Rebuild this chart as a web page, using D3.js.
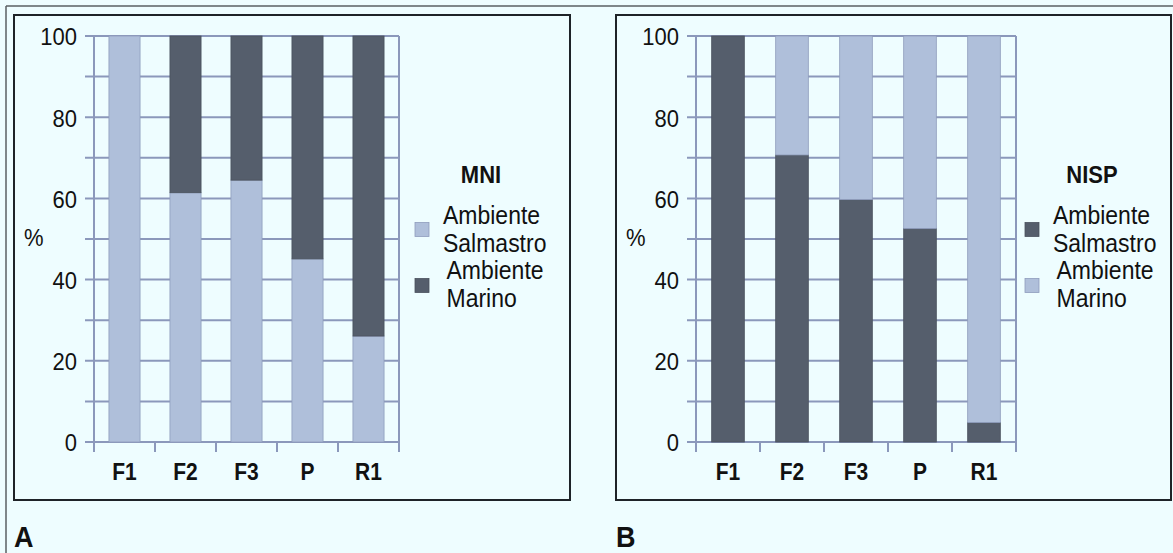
<!DOCTYPE html>
<html>
<head>
<meta charset="utf-8">
<script src="https://cdn.jsdelivr.net/npm/d3@7"></script>
<style>
  html, body { margin: 0; padding: 0; background: #eefdff; }
  svg { display: block; }
  text { font-family: "Liberation Sans", Arial, Helvetica, sans-serif; fill: #111; }
</style>
</head>
<body>
<svg id="chart" width="1173" height="553"></svg>
<script>
// Categories (sites / levels)
const categories = ["F1", "F2", "F3", "P", "R1"];

// MNI percentages
const mniSalmastro = [100, 61.4, 64.5, 45.1, 26.1];
const mniMarino    = [0, 38.6, 35.5, 54.9, 73.9];

// NISP percentages
const nispSalmastro = [100, 70.7, 59.7, 52.6, 4.8];
const nispMarino    = [0, 29.3, 40.3, 47.4, 95.2];

// Axis ticks
const yLabelTicks = [0, 20, 40, 60, 80, 100];
const yGridTicks  = [0, 10, 20, 30, 40, 50, 60, 70, 80, 90, 100];

const LIGHT = "#afbfda";
const DARK  = "#555e6c";
const GRID  = "#8b98bb";
const TEXT_STRETCH = 1.1;   // glyphs are drawn slightly taller than wide

const svg = d3.select("#chart");

// stretch a text element vertically about its baseline
function stretch(sel, baselineY) {
  sel.attr("transform", `translate(0,${baselineY}) scale(1,${TEXT_STRETCH}) translate(0,${-baselineY})`);
}

// outer frame lines (top and left)
svg.append("line").attr("x1", 6).attr("x2", 1173).attr("y1", 6).attr("y2", 6)
  .attr("stroke", "#5a5f63").attr("stroke-width", 1.5);
svg.append("line").attr("x1", 6).attr("x2", 6).attr("y1", 6).attr("y2", 553)
  .attr("stroke", "#5a5f63").attr("stroke-width", 1.5);

function panel(cfg) {
  const g = svg.append("g");

  // panel border
  g.append("rect")
    .attr("x", cfg.box[0]).attr("y", cfg.box[1])
    .attr("width", cfg.box[2] - cfg.box[0]).attr("height", cfg.box[3] - cfg.box[1])
    .attr("fill", "none").attr("stroke", "#1e2328").attr("stroke-width", 2);

  const x = d3.scaleBand().domain(categories)
    .range([cfg.plotX0, cfg.plotX1]).paddingInner(0.49).paddingOuter(0.245);
  const y = d3.scaleLinear().domain([0, 100]).range([442, 36]);

  // horizontal grid lines
  g.append("g").selectAll("line").data(yGridTicks).join("line")
    .attr("x1", cfg.plotX0 - 9).attr("x2", cfg.plotX1)
    .attr("y1", d => y(d)).attr("y2", d => y(d))
    .attr("stroke", GRID).attr("stroke-width", 2);

  // vertical frame lines (left axis and right edge)
  [cfg.plotX0, cfg.plotX1].forEach(xx => {
    g.append("line").attr("x1", xx).attr("x2", xx)
      .attr("y1", y(100)).attr("y2", y(0) + 10)
      .attr("stroke", GRID).attr("stroke-width", 2);
  });

  // category boundary ticks below the baseline
  const bounds = d3.range(categories.length + 1).map(i => cfg.plotX0 + i * (cfg.plotX1 - cfg.plotX0) / categories.length);
  g.append("g").selectAll("line").data(bounds).join("line")
    .attr("x1", d => d).attr("x2", d => d)
    .attr("y1", y(0)).attr("y2", y(0) + 10)
    .attr("stroke", GRID).attr("stroke-width", 2);

  // stacked bars
  const rows = categories.map((c, i) => ({ cat: c, bottom: cfg.bottom.values[i], top: cfg.top.values[i] }));
  const stack = d3.stack().keys(["bottom", "top"])(rows);
  const colors = { bottom: cfg.bottom.color, top: cfg.top.color };
  stack.forEach(layer => {
    const fill = colors[layer.key];
    g.append("g").selectAll("rect").data(layer.filter(d => d[1] - d[0] > 0)).join("rect")
      .attr("x", d => x(d.data.cat))
      .attr("width", x.bandwidth())
      .attr("y", d => y(d[1]))
      .attr("height", d => y(d[0]) - y(d[1]))
      .attr("fill", fill)
      .attr("stroke", fill === LIGHT ? "#8e9cbc" : "#4a525e")
      .attr("stroke-width", 0.8);
  });

  // y axis labels
  const yAxis = d3.axisLeft(y).tickValues(yLabelTicks).tickSize(0).tickPadding(0);
  const ya = g.append("g").attr("transform", `translate(${cfg.plotX0 - 17},0)`).call(yAxis);
  ya.select(".domain").remove();
  ya.selectAll("text").attr("font-size", 22).attr("fill", "#111").attr("dy", null)
    .attr("y", 8)
    .style("font-family", '"Liberation Sans", Arial, sans-serif')
    .each(function () { stretch(d3.select(this), 0); });

  // x axis labels
  const xAxis = d3.axisBottom(x).tickSize(0).tickPadding(0);
  const xa = g.append("g").attr("transform", `translate(0,${y(0) + 38})`).call(xAxis);
  xa.select(".domain").remove();
  xa.selectAll("text").attr("font-size", 21).attr("font-weight", "bold").attr("fill", "#111")
    .attr("dy", null).attr("y", 0)
    .style("font-family", '"Liberation Sans", Arial, sans-serif')
    .each(function () { stretch(d3.select(this), 0); });

  // "%" axis title
  stretch(g.append("text").attr("x", cfg.pctX).attr("y", 246)
    .attr("font-size", 22).text("%"), 246);

  // legend
  stretch(g.append("text").attr("x", cfg.legendTitleX).attr("y", 183)
    .attr("text-anchor", "middle").attr("font-size", 22).attr("font-weight", "bold")
    .text(cfg.title), 183);
  const entries = [
    { color: cfg.legendColors[0], lines: ["Ambiente", "Salmastro"], ty: 224, dx: 0, sy: 222.5 },
    { color: cfg.legendColors[1], lines: ["Ambiente", "Marino"], ty: 279, dx: 3.5, sy: 278.5 }
  ];
  entries.forEach(e => {
    g.append("rect").attr("x", cfg.legendX).attr("y", e.sy).attr("width", 14).attr("height", 14)
      .attr("fill", e.color).attr("stroke", e.color === LIGHT ? "#8e9cbc" : "#4a525e").attr("stroke-width", 0.8);
    e.lines.forEach((t, k) => {
      const by = e.ty + k * 28;
      stretch(g.append("text").attr("x", cfg.legendX + 28 + e.dx).attr("y", by)
        .attr("font-size", 23).text(t), by);
    });
  });

  // panel letter
  stretch(g.append("text").attr("x", cfg.box[0]).attr("y", 547)
    .attr("font-size", 27).attr("font-weight", "bold").text(cfg.letter), 547);
}

panel({
  box: [14, 15, 570, 500],
  plotX0: 94, plotX1: 399,
  bottom: { values: mniSalmastro, color: LIGHT },
  top: { values: mniMarino, color: DARK },
  legendColors: [LIGHT, DARK],
  title: "MNI", legendTitleX: 481, legendX: 415, pctX: 24,
  letter: "A"
});

panel({
  box: [616, 15, 1171, 500],
  plotX0: 696, plotX1: 1016,
  bottom: { values: nispSalmastro, color: DARK },
  top: { values: nispMarino, color: LIGHT },
  legendColors: [DARK, LIGHT],
  title: "NISP", legendTitleX: 1092, legendX: 1025, pctX: 626,
  letter: "B"
});
</script>
</body>
</html>
